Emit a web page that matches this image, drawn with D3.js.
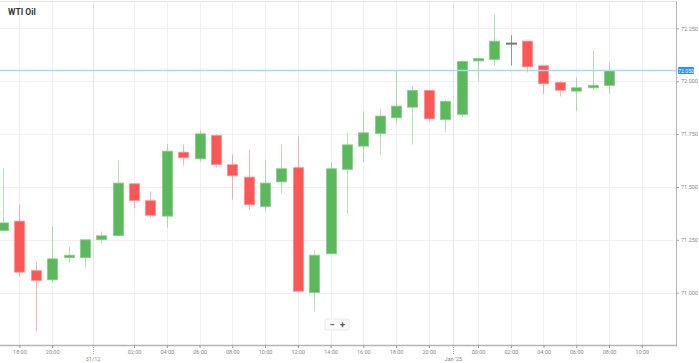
<!DOCTYPE html>
<html><head><meta charset="utf-8">
<script src="https://cdn.jsdelivr.net/npm/d3@7"></script>
<style>
html,body{margin:0;padding:0;background:#fff;}
svg{display:block;font-family:Roboto,"Open Sans",Arial,sans-serif;}
</style></head>
<body>
<svg id="c" width="699" height="363"></svg>
<script>
const title = "WTI Oil";
const times = ["17:00","18:00","19:00","20:00","21:00","22:00","00:00","01:00","02:00","03:00","04:00","05:00","06:00","07:00","08:00","09:00","10:00","11:00","12:00","13:00","14:00","15:00","16:00","17:00","18:00","19:00","20:00","21:00","23:00","00:00","01:00","02:00","03:00","04:00","05:00","06:00","07:00","08:00"];
const opens  = [71.294,71.338,71.104,71.061,71.166,71.166,71.251,71.270,71.515,71.435,71.362,71.664,71.633,71.743,71.605,71.546,71.408,71.524,71.591,71.001,71.184,71.583,71.693,71.753,71.827,71.877,71.956,71.819,71.843,72.096,72.103,72.180,72.189,72.073,71.994,71.953,71.969,71.980];
const highs  = [71.586,71.417,71.148,71.318,71.218,71.251,71.289,71.625,71.516,71.478,71.704,71.701,71.770,71.748,71.654,71.677,71.628,71.701,71.739,71.200,71.619,71.757,71.857,71.870,72.051,71.975,71.960,71.913,72.098,72.113,72.315,72.217,72.189,72.073,72.000,72.019,72.145,72.088];
const lows   = [71.290,71.078,70.813,71.050,71.140,71.116,71.231,71.270,71.400,71.357,71.308,71.601,71.620,71.591,71.440,71.389,71.385,71.470,71.002,70.911,71.184,71.370,71.619,71.650,71.801,71.701,71.811,71.759,71.830,71.999,72.074,72.074,72.041,71.940,71.928,71.858,71.959,71.940];
const closes = [71.330,71.097,71.058,71.160,71.177,71.250,71.269,71.518,71.436,71.366,71.669,71.638,71.751,71.606,71.553,71.416,71.518,71.586,71.007,71.177,71.586,71.699,71.756,71.835,71.882,71.956,71.822,71.904,72.093,72.107,72.189,72.180,72.068,71.988,71.957,71.969,71.980,72.050];
const yTicks = [71.0, 71.25, 71.5, 71.75, 72.0, 72.25];
const xTickPos = [1,3,8,10,12,14,16,18,20,22,24,26,29,31,33,35,37,39];
const xTickLabels = ["18:00","20:00","02:00","04:00","06:00","08:00","10:00","12:00","14:00","16:00","18:00","20:00","00:00","02:00","04:00","06:00","08:00","10:00"];
const dateTickPos = [5.5, 27.5];
const dateLabels = ["31/12","Jan '25"];
const lastPrice = 72.050;

const svg = d3.select("#c");
const W = 699, H = 363;
const plotL = 0, plotR = 676, plotT = 2, plotB = 345;

const x = d3.scaleLinear().domain([0, 37]).range([3, 609]);
const y = d3.scaleLinear().domain([71.0, 72.25]).range([292.7, 28.3]);

// horizontal grid
svg.append("g").selectAll("line").data(yTicks).join("line")
  .attr("x1", plotL).attr("x2", plotR)
  .attr("y1", d => Math.round(y(d)) + 0.5).attr("y2", d => Math.round(y(d)) + 0.5)
  .attr("stroke", "#f0f0f0").attr("stroke-width", 1);
// vertical grid
svg.append("g").selectAll("line").data(xTickPos).join("line")
  .attr("x1", d => Math.round(x(d)) + 0.5).attr("x2", d => Math.round(x(d)) + 0.5)
  .attr("y1", plotT).attr("y2", plotB)
  .attr("stroke", "#f0f0f0").attr("stroke-width", 1);
svg.append("g").selectAll("line").data(dateTickPos).join("line")
  .attr("x1", d => Math.round(x(d)) + 0.5).attr("x2", d => Math.round(x(d)) + 0.5)
  .attr("y1", plotT).attr("y2", plotB)
  .attr("stroke", "#e2e2e2").attr("stroke-width", 1);

// top border
svg.append("line").attr("x1", 0).attr("x2", plotR).attr("y1", plotT - 0.5).attr("y2", plotT - 0.5)
  .attr("stroke", "#e6e6e6");

// candles
const idx = d3.range(opens.length);
const green = "#5cb85c", red = "#fa5757";
const col = i => closes[i] > opens[i] ? green : (closes[i] < opens[i] ? red : "#777");
const wickCol = i => closes[i] > opens[i] ? "rgba(92,184,92,0.45)" : (closes[i] < opens[i] ? "rgba(250,87,87,0.45)" : "rgba(90,90,90,0.6)");
const cg = svg.append("g");
cg.selectAll("line.w").data(idx).join("line").attr("class", "w")
  .attr("x1", i => Math.round(x(i)) + 0.5).attr("x2", i => Math.round(x(i)) + 0.5)
  .attr("y1", i => y(highs[i])).attr("y2", i => y(lows[i]))
  .attr("stroke", wickCol).attr("stroke-width", 1);
cg.selectAll("rect.b").data(idx).join("rect").attr("class", "b")
  .attr("x", i => Math.round(x(i)) - 4.5)
  .attr("width", 10)
  .attr("y", i => y(Math.max(opens[i], closes[i])))
  .attr("height", i => Math.max(1, y(Math.min(opens[i], closes[i])) - y(Math.max(opens[i], closes[i]))))
  .attr("fill", col)
  .attr("stroke", i => closes[i] >= opens[i] ? (closes[i] === opens[i] ? "#777" : "rgba(130,205,130,0.8)") : "rgba(255,140,140,0.8)")
  .attr("stroke-width", 1);

// price line
svg.append("line").attr("x1", 0).attr("x2", plotR)
  .attr("y1", y(lastPrice)).attr("y2", y(lastPrice))
  .attr("stroke", "#a8d8f8").attr("stroke-width", 1.5);

// right axis line
svg.append("line").attr("x1", plotR + 0.5).attr("x2", plotR + 0.5).attr("y1", plotT - 1).attr("y2", plotB)
  .attr("stroke", "#b5b5b5").attr("stroke-width", 1);
// bottom axis line
svg.append("line").attr("x1", 0).attr("x2", plotR + 1).attr("y1", plotB + 0.5).attr("y2", plotB + 0.5)
  .attr("stroke", "#b5b5b5").attr("stroke-width", 1.5);

// y axis via d3
const yAxis = d3.axisRight(y).tickValues(yTicks).tickSize(3).tickPadding(2).tickFormat(d3.format(".3f"));
const ya = svg.append("g").attr("transform", `translate(${plotR},0)`).call(yAxis);
ya.select(".domain").remove();
ya.selectAll("line").attr("stroke", "#aaa");
ya.selectAll("text").attr("fill", "#888").attr("font-size", 5.5).attr("font-family", "Roboto, Arial, sans-serif");

// price label
const pl = svg.append("g").attr("transform", `translate(${plotR + 2},${y(lastPrice)})`);
pl.append("rect").attr("x", 0).attr("y", -3.5).attr("width", 16).attr("height", 7).attr("rx", 1).attr("fill", "#2b8ff5");
pl.append("text").attr("x", 8).attr("y", 2).attr("text-anchor", "middle").attr("fill", "#fff")
  .attr("font-size", 5.2).text(d3.format(".3f")(lastPrice));

// x axis via d3
const xAxis = d3.axisBottom(x).tickValues(xTickPos).tickSize(3).tickPadding(2).tickFormat((d, i) => xTickLabels[i]);
const xa = svg.append("g").attr("transform", `translate(0,${plotB})`).call(xAxis);
xa.select(".domain").remove();
xa.selectAll("line").attr("stroke", "#999");
xa.selectAll("text").attr("fill", "#888").attr("font-size", 5.5).attr("font-family", "Roboto, Arial, sans-serif");

const dg = svg.append("g");
dg.selectAll("line").data(dateTickPos).join("line")
  .attr("x1", d => Math.round(x(d)) + 0.5).attr("x2", d => Math.round(x(d)) + 0.5)
  .attr("y1", plotB).attr("y2", plotB + 10)
  .attr("stroke", "#999").attr("stroke-dasharray", "1,1");
dg.selectAll("text").data(dateTickPos).join("text")
  .attr("x", d => x(d)).attr("y", plotB + 15.5).attr("text-anchor", "middle")
  .attr("fill", "#888").attr("font-size", 5.5).text((d, i) => dateLabels[i]);

// title
svg.append("text").attr("x", 8).attr("y", 15).attr("font-size", 8.5).attr("font-weight", "bold")
  .attr("fill", "#333").text(title);

// zoom buttons
const zb = svg.append("g").attr("transform", "translate(325,319)");
zb.append("rect").attr("x", 0).attr("y", 0).attr("width", 24).attr("height", 11).attr("rx", 2)
  .attr("fill", "#fafafa").attr("stroke", "#e8e8e8");
zb.append("text").attr("x", 7).attr("y", 8.5).attr("text-anchor", "middle").attr("font-size", 9).attr("font-weight", "bold").attr("fill", "#555").text("−");
zb.append("text").attr("x", 17.5).attr("y", 8.5).attr("text-anchor", "middle").attr("font-size", 9).attr("font-weight", "bold").attr("fill", "#555").text("+");
</script>
</body></html>
